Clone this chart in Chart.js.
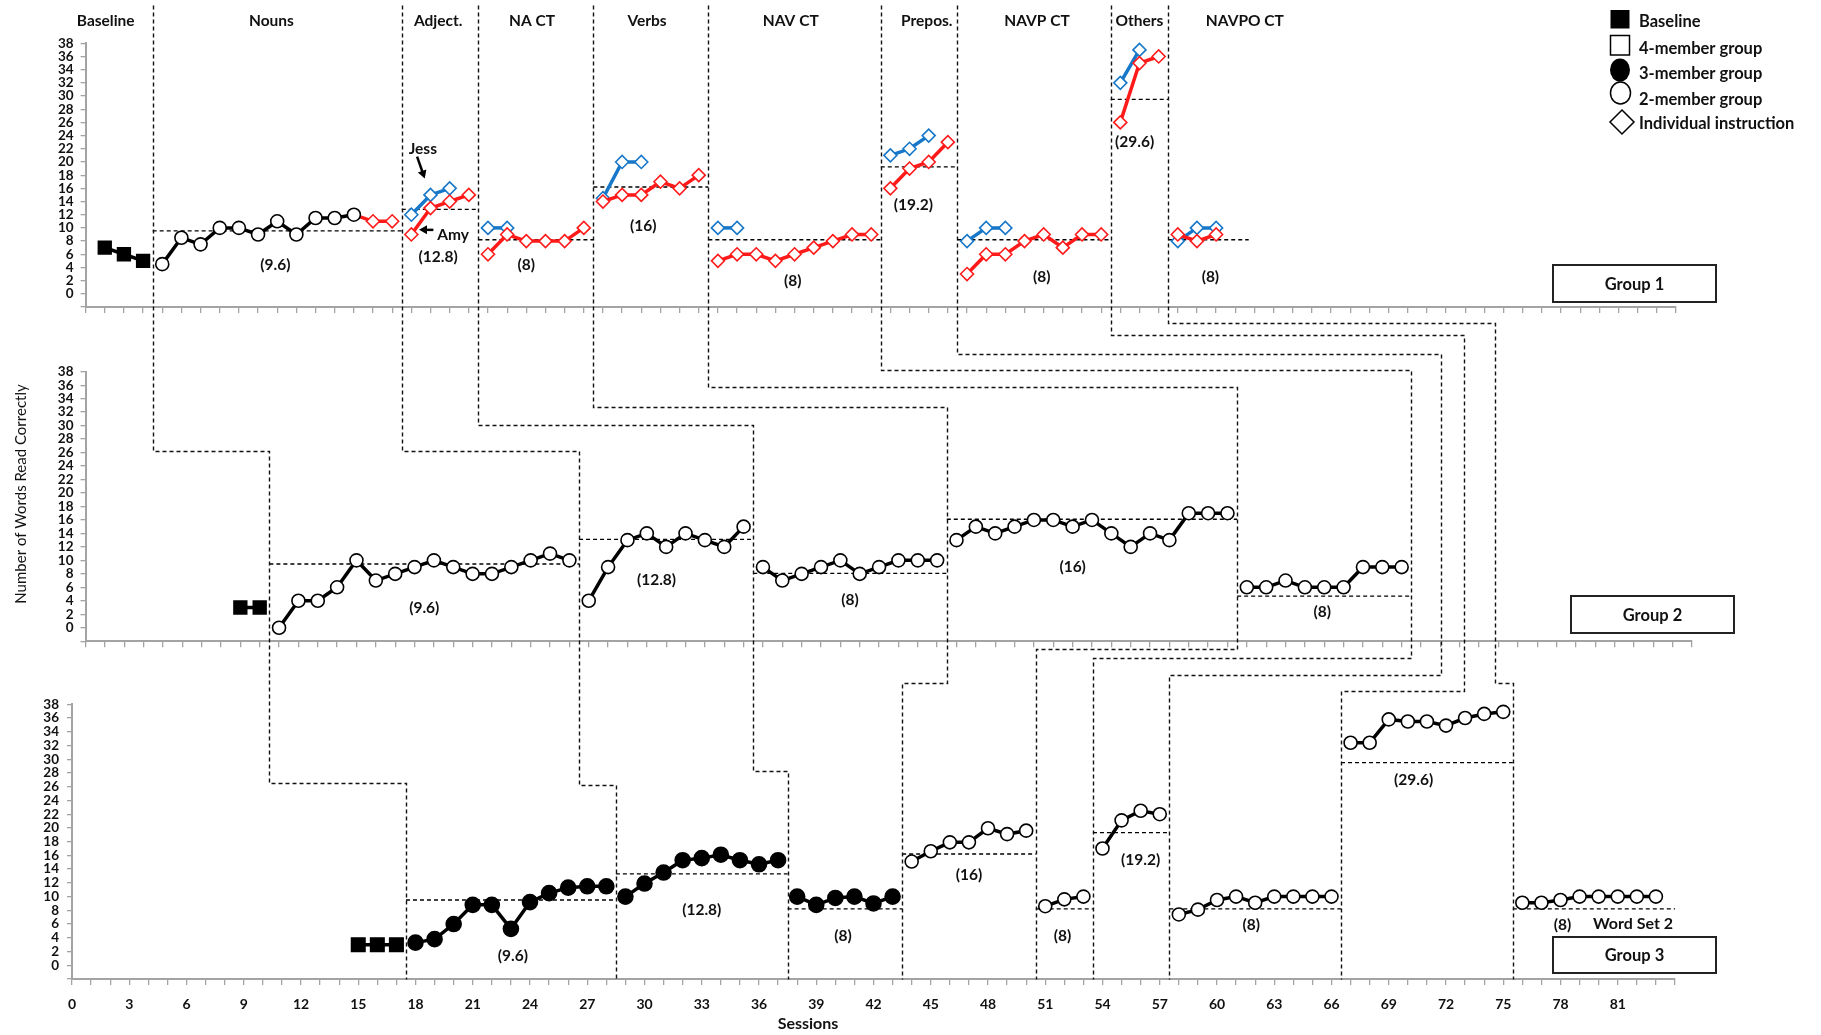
<!DOCTYPE html>
<html>
<head>
<meta charset="utf-8">
<title>Words read correctly - groups 1-3</title>
<script src="https://cdn.jsdelivr.net/npm/chart.js@4.4.1/dist/chart.umd.min.js"></script>
<style>
  html, body { margin: 0; padding: 0; background: #fff; }
  #wrap { position: relative; width: 1821px; height: 1035px; }
  #wrap canvas { position: absolute; left: 0; top: 0; }
</style>
</head>
<body>
<div id="wrap">
  <canvas id="g1" width="1821" height="1035"></canvas>
  <canvas id="g2" width="1821" height="1035"></canvas>
  <canvas id="g3" width="1821" height="1035"></canvas>
</div>
<script>
const W = 1821, H = 1035;
const FONT = 'Lato, "Open Sans", "DejaVu Sans", sans-serif';
const INK = "#111";
const GREY = "#a3a3a3";
const RED = "#ff1a1a";
const BLUE = "#1777c8";

// ---------- Group 1 (top) : [session, words] ----------
const g1Baseline = [[1,7],[2,6],[3,5]];
const g1Nouns = [[4,4.5],[5,8.5],[6,7.5],[7,10],[8,10],[9,9],[10,11],[11,9],[12,11.5],[13,11.5],[14,12]];
const g1AmyNouns = [[14,12],[15,11],[16,11]];
const g1Amy = [
  [[17,9],[18,13],[19,14],[20,15]],
  [[21,6],[22,9],[23,8],[24,8],[25,8],[26,10]],
  [[27,14],[28,15],[29,15],[30,17],[31,16],[32,18]],
  [[33,5],[34,6],[35,6],[36,5],[37,6],[38,7],[39,8],[40,9],[41,9]],
  [[42,16],[43,19],[44,20],[45,23]],
  [[46,3],[47,6],[48,6],[49,8],[50,9],[51,7],[52,9],[53,9]],
  [[54,26],[55,35],[56,36]],
  [[57,9],[58,8],[59,9]]
];
const g1Jess = [
  [[17,12],[18,15],[19,16]],
  [[21,10],[22,10]],
  [[27,14.5],[28,20],[29,20]],
  [[33,10],[34,10]],
  [[42,21],[43,22],[44,24]],
  [[46,8],[47,10],[48,10]],
  [[54,32],[55,37]],
  [[57,8],[58,10],[59,10]]
];
// [from, to, level]
const g1Aims = [[3.5,16.5,9.55],[16.5,20.5,12.8],[20.5,26.5,8.2],[26.5,32.5,16.2],[32.5,41.5,8.2],
                [41.5,45.5,19.25],[45.5,53.5,8.2],[53.5,56.5,29.5],[56.5,60.7,8.2]];
const g1AimText = [["(9.6)",9.9,4.3],["(12.8)",18.4,5.65],["(8)",23,4.3],["(16)",29.1,10.3],["(8)",36.9,2],
                   ["(19.2)",43.2,13.4],["(8)",49.9,2.6],["(29.6)",54.75,23.1],["(8)",58.7,2.6]];
const phaseNames = [["Baseline",1.05],["Nouns",9.7],["Adject.",18.4],["NA CT",23.3],["Verbs",29.3],
                    ["NAV CT",36.8],["Prepos.",43.9],["NAVP CT",49.65],["Others",55],["NAVPO CT",60.5]];

// ---------- Group 2 (middle) ----------
const g2Baseline = [[8,3],[9,3]];
const g2Phases = [
  [[10,0],[11,4],[12,4],[13,6],[14,10],[15,7],[16,8],[17,9],[18,10],[19,9],[20,8],[21,8],[22,9],[23,10],[24,11],[25,10]],
  [[26,4],[27,9],[28,13],[29,14],[30,12],[31,14],[32,13],[33,12],[34,15]],
  [[35,9],[36,7],[37,8],[38,9],[39,10],[40,8],[41,9],[42,10],[43,10],[44,10]],
  [[45,13],[46,15],[47,14],[48,15],[49,16],[50,16],[51,15],[52,16],[53,14],[54,12],[55,14],[56,13],[57,17],[58,17],[59,17]],
  [[60,6],[61,6],[62,7],[63,6],[64,6],[65,6],[66,9],[67,9],[68,9]]
];
const g2Aims = [[9.5,25.5,9.46],[25.5,34.5,13.1],[34.5,44.5,8.07],[44.5,59.5,16.1],[59.5,68.5,4.7]];
const g2AimText = [["(9.6)",17.5,3],["(12.8)",29.5,7.1],["(8)",39.5,4.1],["(16)",51,9.05],["(8)",63.9,2.3]];

// ---------- Group 3 (bottom) ----------
const g3Baseline = [[15,3],[16,3],[17,3]];
const g3Filled = [
  [[18,3.3],[19,3.8],[20,6],[21,8.8],[22,8.8],[23,5.3],[24,9.2],[25,10.5],[26,11.3],[27,11.5],[28,11.5]],
  [[29,10],[30,11.9],[31,13.5],[32,15.3],[33,15.6],[34,16.1],[35,15.3],[36,14.7],[37,15.3]],
  [[38,10],[39,8.8],[40,9.8],[41,10],[42,9],[43,10]]
];
const g3Open = [
  [[44,15.1],[45,16.6],[46,17.9],[47,17.9],[48,19.95],[49,19.1],[50,19.6]],
  [[51,8.6],[52,9.6],[53,10]],
  [[54,17],[55,21.1],[56,22.5],[57,22]],
  [[58,7.4],[59,8.1],[60,9.5],[61,10],[62,9.1],[63,10],[64,10],[65,10],[66,10]],
  [[67,32.4],[68,32.4],[69,35.8],[70,35.5],[71,35.5],[72,34.9],[73,36],[74,36.6],[75,36.9]],
  [[76,9.1],[77,9.1],[78,9.5],[79,10],[80,10],[81,10],[82,10],[83,10]]
];
const g3Aims = [[17.5,28.5,9.5],[28.5,37.5,13.3],[37.5,43.5,8.2],[43.5,50.5,16.2],[50.5,53.5,8.2],
                [53.5,57.5,19.3],[57.5,66.5,8.2],[66.5,75.5,29.5],[75.5,84,8.2]];
const g3AimText = [["(9.6)",23.1,1.4],["(12.8)",33,8.1],["(8)",40.4,4.3],["(16)",47,13.2],["(8)",51.9,4.3],
                   ["(19.2)",56,15.4],["(8)",61.8,5.9],["(29.6)",70.3,27],["(8)",78.1,5.9]];

// phase-change connectors: start [panel, session, value], then 'v' (to value in panel) / 'h' (to session in panel)
const phaseLinks = [
  [[0,3.5,43.8],["v",1,26.2],["h",1,9.5],["v",2,26.6],["h",2,17.5],["v",2,-2]],
  [[0,16.5,43.8],["v",1,26.2],["h",1,25.5],["v",2,26.2],["h",2,28.5],["v",2,-2]],
  [[0,20.5,43.8],["v",1,30.1],["h",1,34.5],["v",2,28.3],["h",2,37.5],["v",2,-2]],
  [[0,26.5,43.8],["v",1,32.8],["h",1,44.5],["v",2,41.1],["h",2,43.5],["v",2,-2]],
  [[0,32.5,43.8],["v",1,35.8],["h",1,59.5],["v",2,46.0],["h",2,50.5],["v",2,-2]],
  [[0,41.5,43.8],["v",1,38.25],["h",1,68.5],["v",2,44.7],["h",2,53.5],["v",2,-2]],
  [[0,45.5,43.8],["v",1,40.7],["h",1,70.05],["v",2,42.2],["h",2,57.5],["v",2,-2]],
  [[0,53.5,43.8],["v",1,43.4],["h",1,71.2],["v",2,40.0],["h",2,66.5],["v",2,-2]],
  [[0,56.5,43.8],["v",1,45.3],["h",1,72.8],["v",2,41.1],["h",2,75.5],["v",2,-2]]
];

const legendLabels = ["Baseline","4-member group","3-member group","2-member group","Individual instruction"];

const charts = [];

// ---------- helpers ----------
function xy(arr){ return arr.map(([x, y]) => ({x, y})); }

const STYLES = {
  base:   {pointStyle:"rect", pointRadius:9, pointBackgroundColor:"#000", pointBorderColor:"#000", borderColor:"#000"},
  open:   {pointStyle:"circle", pointRadius:6.5, pointBackgroundColor:"#fff", pointBorderColor:"#000", borderColor:"#000"},
  filled: {pointStyle:"circle", pointRadius:7.5, pointBackgroundColor:"#000", pointBorderColor:"#000", borderColor:"#000"},
  amy:    {pointStyle:"rectRot", pointRadius:6.5, pointBackgroundColor:"#fff", pointBorderColor:RED, borderColor:RED},
  jess:   {pointStyle:"rectRot", pointRadius:6.5, pointBackgroundColor:"#fff", pointBorderColor:BLUE, borderColor:BLUE}
};
const ORDER = {base:0, open:0, filled:0, amy:1, jess:2};

function series(arr, kind, extra){
  return Object.assign({data: xy(arr), showLine:true, borderWidth:3.5, pointBorderWidth:1.6,
    clip:false, order:ORDER[kind]}, STYLES[kind], extra || {});
}
function aim([a, b, v]){
  return {data:[{x:a,y:v},{x:b,y:v}], showLine:true, borderColor:"#000", borderWidth:1.3,
    borderDash:[4,3], pointRadius:0, clip:false, order:5};
}
function text(ctx, t, x, y, size, weight, align){
  ctx.font = `${weight || "bold"} ${size}px ${FONT}`;
  ctx.fillStyle = INK;
  ctx.textAlign = align || "center";
  ctx.textBaseline = "middle";
  ctx.fillText(t, x, y);
}
function aimLabels(chart, list){
  const {x, y} = chart.scales;
  list.forEach(([t, s, v]) => text(chart.ctx, t, x.getPixelForValue(s), y.getPixelForValue(v), 15.5));
}
function groupBox(ctx, [x, y, w, h], t){
  ctx.save();
  ctx.lineWidth = 2; ctx.strokeStyle = "#222";
  ctx.strokeRect(x, y, w, h);
  ctx.restore();
  text(ctx, t, x + w / 2, y + h / 2 + 1, 16.5);
}
function arrow(ctx, x1, y1, x2, y2){
  const a = Math.atan2(y2 - y1, x2 - x1);
  ctx.save();
  ctx.strokeStyle = "#000"; ctx.fillStyle = "#000"; ctx.lineWidth = 2.5;
  ctx.beginPath(); ctx.moveTo(x1, y1); ctx.lineTo(x2 - 5 * Math.cos(a), y2 - 5 * Math.sin(a)); ctx.stroke();
  ctx.beginPath();
  ctx.moveTo(x2, y2);
  ctx.lineTo(x2 - 8 * Math.cos(a) + 4.5 * Math.sin(a), y2 - 8 * Math.sin(a) - 4.5 * Math.cos(a));
  ctx.lineTo(x2 - 8 * Math.cos(a) - 4.5 * Math.sin(a), y2 - 8 * Math.sin(a) + 4.5 * Math.cos(a));
  ctx.closePath(); ctx.fill();
  ctx.restore();
}

function panel(id, geo, xmax, datasets, xLabels, draw){
  const c = new Chart(document.getElementById(id), {
    type: "line",
    data: { datasets },
    options: {
      responsive: false, animation: false, events: [], devicePixelRatio: 1,
      layout: { padding: { left: geo.left - 45, right: W - geo.right, top: geo.top, bottom: H - geo.bottom - geo.xh } },
      plugins: { legend: { display: false }, tooltip: { enabled: false } },
      scales: {
        x: {
          type: "linear", min: 0, max: xmax,
          afterFit: s => { s.height = geo.xh; },
          border: { color: GREY, width: 2 },
          grid: { drawOnChartArea: false, tickLength: 6, color: GREY, lineWidth: 1.3 },
          ticks: { stepSize: 1, autoSkip: false, maxRotation: 0, padding: geo.xpad || 3, color: INK,
                   font: { family: FONT, size: 14, weight: "bold" },
                   callback: v => (xLabels && v % 3 === 0 && v <= 81) ? String(v) : "" }
        },
        y: {
          min: -2, max: 38,
          afterFit: s => { s.width = 45; },
          border: { color: GREY, width: 2 },
          grid: { drawOnChartArea: false, tickLength: 5, color: GREY, lineWidth: 1.3 },
          ticks: { stepSize: 2, autoSkip: false, padding: geo.ypad, color: INK,
                   font: { family: FONT, size: 13.5, weight: "bold", lineHeight: 1 },
                   callback: v => v < 0 ? "" : String(v) }
        }
      }
    },
    plugins: [{ id: "extras_" + id, afterDraw: draw }]
  });
  charts.push(c);
  return c;
}

// ---------- top panel ----------
const g1Sets = [
  series(g1Baseline, "base"),
  series(g1Nouns, "open"),
  series(g1AmyNouns, "amy", { pointRadius: [0, 6.5, 6.5] }),
  ...g1Amy.map(p => series(p, "amy")),
  ...g1Jess.map(p => series(p, "jess")),
  ...g1Aims.map(aim)
];
panel("g1", { left: 85.6, right: 1676, top: 43.3, bottom: 307, xh: 10, ypad: 7 }, 83, g1Sets, false, chart => {
  const ctx = chart.ctx, {x, y} = chart.scales;
  phaseNames.forEach(([t, s]) => text(ctx, t, x.getPixelForValue(s), y.getPixelForValue(41.4), 15.5));
  aimLabels(chart, g1AimText);
  text(ctx, "Jess", x.getPixelForValue(17.6), y.getPixelForValue(21.9), 15.5);
  arrow(ctx, x.getPixelForValue(17.3), y.getPixelForValue(20.8), x.getPixelForValue(17.7), y.getPixelForValue(17.5));
  text(ctx, "Amy", x.getPixelForValue(18.35), y.getPixelForValue(8.9), 15.5, "bold", "left");
  arrow(ctx, x.getPixelForValue(18.15), y.getPixelForValue(9.7), x.getPixelForValue(17.4), y.getPixelForValue(9.7));
  // legend
  const mx = 1620, tx = 1639, rows = [21.7, 48.3, 74, 100, 124];
  ctx.save();
  ctx.lineWidth = 1.5; ctx.strokeStyle = "#000"; ctx.fillStyle = "#000";
  ctx.fillRect(mx - 9.5, 10, 19, 18.5);
  ctx.strokeRect(mx - 9.5, 35.5, 19, 19.5);
  ctx.beginPath(); ctx.ellipse(mx, 70, 10, 11.5, 0, 0, 2 * Math.PI); ctx.fill();
  ctx.beginPath(); ctx.ellipse(mx + 0.5, 93, 10, 11, 0, 0, 2 * Math.PI); ctx.stroke();
  ctx.beginPath(); ctx.moveTo(mx + 2, 110); ctx.lineTo(mx + 14, 122); ctx.lineTo(mx + 2, 134); ctx.lineTo(mx - 10, 122);
  ctx.closePath(); ctx.stroke();
  ctx.restore();
  legendLabels.forEach((t, i) => text(ctx, t, tx, rows[i], 16.5, "bold", "left"));
  groupBox(ctx, [1553, 265, 163, 37], "Group 1");
});

// ---------- middle panel ----------
const g2Sets = [
  series(g2Baseline, "base"),
  ...g2Phases.map(p => series(p, "open")),
  ...g2Aims.map(aim)
];
panel("g2", { left: 85.5, right: 1692, top: 371.7, bottom: 641.2, xh: 10, ypad: 7 }, 83, g2Sets, false, chart => {
  const ctx = chart.ctx;
  aimLabels(chart, g2AimText);
  ctx.save();
  ctx.translate(21, 494); ctx.rotate(-Math.PI / 2);
  text(ctx, "Number of Words Read Correctly", 0, 0, 15, "normal");
  ctx.restore();
  groupBox(ctx, [1571, 596, 163, 37], "Group 2");
});

// ---------- bottom panel ----------
const g3Sets = [
  series(g3Baseline, "base", { pointRadius: 9.5 }),
  ...g3Filled.map(p => series(p, "filled")),
  ...g3Open.map(p => series(p, "open")),
  ...g3Aims.map(aim)
];
panel("g3", { left: 72, right: 1675, top: 704.3, bottom: 979, xh: 42, ypad: 8, xpad: 11 }, 84, g3Sets, true, chart => {
  const ctx = chart.ctx, {x, y} = chart.scales;
  aimLabels(chart, g3AimText);
  text(ctx, "Word Set 2", x.getPixelForValue(81.8), y.getPixelForValue(6.1), 16);
  text(ctx, "Sessions", 808, 1024, 16);
  groupBox(ctx, [1553, 937, 163, 36], "Group 3");

  // dashed phase-change lines running through all three panels
  const P = [charts[0], charts[1], chart];
  ctx.save();
  ctx.strokeStyle = "#111"; ctx.lineWidth = 1.4; ctx.setLineDash([4, 3]);
  phaseLinks.forEach(steps => {
    const [p0, s0, v0] = steps[0];
    let px = Math.round(P[p0].scales.x.getPixelForValue(s0)) + 0.5;
    let py = Math.round(P[p0].scales.y.getPixelForValue(v0)) + 0.5;
    ctx.beginPath(); ctx.moveTo(px, py);
    steps.slice(1).forEach(([dir, p, v]) => {
      if (dir === "v") py = Math.round(P[p].scales.y.getPixelForValue(v)) + 0.5;
      else px = Math.round(P[p].scales.x.getPixelForValue(v)) + 0.5;
      ctx.lineTo(px, py);
    });
    ctx.stroke();
  });
  ctx.restore();
});
</script>
</body>
</html>
